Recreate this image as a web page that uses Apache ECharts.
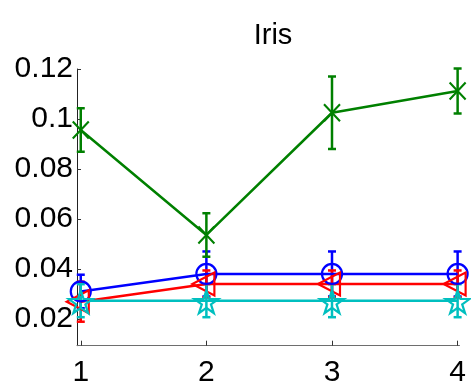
<!DOCTYPE html>
<html>
<head>
<meta charset="utf-8">
<script src="https://cdn.jsdelivr.net/npm/echarts@6/dist/echarts.min.js"></script>
<style>
  html, body { margin: 0; padding: 0; background: #fff; }
  #chart { width: 471px; height: 381px; }
</style>
</head>
<body>
<div id="chart"></div>
<script>
// Iris: mean value with error bars for four settings, four methods
const xValues = [1, 2, 3, 4];
const yTicks = [0.02, 0.04, 0.06, 0.08, 0.1, 0.12];

const blueMean = [0.031, 0.038, 0.038, 0.038];
const blueErr = [0.0067, 0.009, 0.009, 0.009];

const greenMean = [0.0956, 0.0536, 0.1025, 0.1112];
const greenErr = [0.0087, 0.0087, 0.0145, 0.009];

const redMean = [0.0269, 0.034, 0.034, 0.034];
const redErr = [0.008, 0.0054, 0.0054, 0.0054];

const cyanMean = [0.0273, 0.0273, 0.0273, 0.0273];
const cyanErr = [0.0066, 0.0066, 0.0066, 0.0066];

const FONT = '"Liberation Sans", Arial, Helvetica, sans-serif';
const LW = 2.5;

// five-pointed star outline
function starPath() {
  const pts = [];
  for (let i = 0; i < 10; i++) {
    const r = i % 2 === 0 ? 10 : 3.82;
    const a = -Math.PI / 2 + i * Math.PI / 5;
    pts.push((10 + r * Math.cos(a)).toFixed(3) + ',' + (10 + r * Math.sin(a)).toFixed(3));
  }
  return 'path://M' + pts.join('L') + 'Z';
}

const CROSS = 'path://M0,0L10,10M10,0L0,10';
const LEFT_TRI = 'path://M0,10L20,0L20,20Z';

function lineSeries(name, mean, color, symbol, size, offset) {
  return {
    name: name,
    type: 'line',
    data: xValues.map((x, i) => [x, mean[i]]),
    symbol: symbol,
    symbolSize: size,
    symbolKeepAspect: false,
    symbolOffset: offset || [0, 0],
    showSymbol: true,
    lineStyle: { color: color, width: LW },
    itemStyle: { color: 'rgba(0,0,0,0)', borderColor: color, borderWidth: 2.2 },
    emphasis: { disabled: true },
    z: 3
  };
}

function errorSeries(name, mean, err, color) {
  return {
    name: name + ' err',
    type: 'custom',
    data: xValues.map((x, i) => [x, mean[i] - err[i], mean[i] + err[i]]),
    renderItem: function (params, api) {
      const lo = api.coord([api.value(0), api.value(1)]);
      const hi = api.coord([api.value(0), api.value(2)]);
      const cap = 4;
      const style = { stroke: color, lineWidth: LW, fill: null };
      return {
        type: 'group',
        children: [
          { type: 'line', shape: { x1: lo[0], y1: lo[1], x2: hi[0], y2: hi[1] }, style: style },
          { type: 'line', shape: { x1: lo[0] - cap, y1: lo[1], x2: lo[0] + cap, y2: lo[1] }, style: style },
          { type: 'line', shape: { x1: hi[0] - cap, y1: hi[1], x2: hi[0] + cap, y2: hi[1] }, style: style }
        ]
      };
    },
    z: 2
  };
}

const chart = echarts.init(document.getElementById('chart'), null, { renderer: 'canvas' });

chart.setOption({
  animation: false,
  backgroundColor: '#ffffff',
  title: {
    text: 'Iris',
    left: 268,
    textAlign: 'center',
    top: 16,
    textStyle: { fontFamily: FONT, fontSize: 29, fontWeight: 'normal', color: '#000' }
  },
  grid: {
    left: 77, right: 11.5, top: 69, bottom: 35.3,
    containLabel: false,
    outerBoundsMode: 'none'
  },
  xAxis: {
    type: 'value',
    min: 0.97,
    max: 4.015,
    splitLine: { show: false },
    axisLine: { show: true, onZero: false, lineStyle: { color: '#6e6e6e', width: 1 } },
    axisTick: { show: true, inside: true, length: 5, customValues: xValues, lineStyle: { color: '#333' } },
    axisLabel: {
      customValues: xValues,
      margin: 12,
      fontFamily: FONT, fontSize: 30, color: '#000',
      formatter: v => String(v)
    }
  },
  yAxis: {
    type: 'value',
    min: 0.0093,
    max: 0.12,
    splitLine: { show: false },
    axisLine: { show: true, onZero: false, lineStyle: { color: '#222', width: 1 } },
    axisTick: { show: true, inside: true, length: 4, customValues: yTicks, lineStyle: { color: '#333' } },
    axisLabel: {
      customValues: yTicks,
      margin: 4,
      fontFamily: FONT, fontSize: 30, color: '#000',
      formatter: v => String(+Number(v).toFixed(4))
    }
  },
  series: [
    errorSeries('blue', blueMean, blueErr, '#0000ff'),
    lineSeries('blue', blueMean, '#0000ff', 'circle', 20),
    errorSeries('green', greenMean, greenErr, '#008000'),
    lineSeries('green', greenMean, '#008000', CROSS, [16, 17]),
    errorSeries('red', redMean, redErr, '#ff0000'),
    lineSeries('red', redMean, '#ff0000', LEFT_TRI, [22, 23], [-3, 0]),
    errorSeries('cyan', cyanMean, cyanErr, '#00bfbf'),
    lineSeries('cyan', cyanMean, '#00bfbf', starPath(), [24, 23], [0, 1])
  ]
});
</script>
</body>
</html>
